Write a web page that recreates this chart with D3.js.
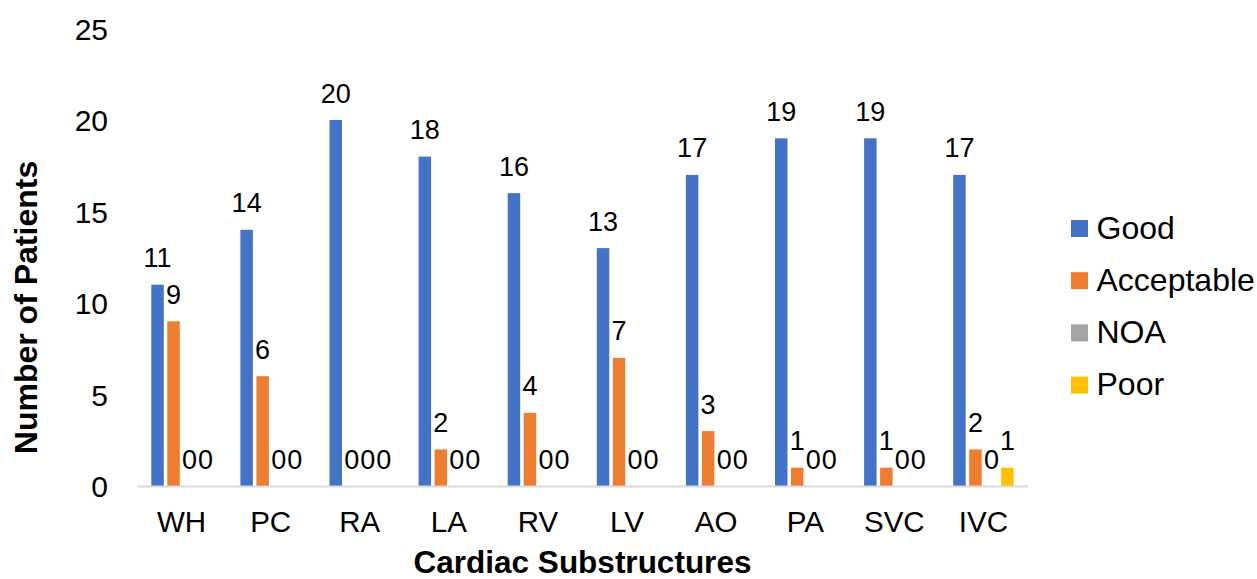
<!DOCTYPE html>
<html>
<head>
<meta charset="utf-8">
<script src="https://cdn.jsdelivr.net/npm/d3@7"></script>
<style>
  html, body { margin: 0; padding: 0; background: #fff; }
  svg { display: block; font-family: "Liberation Sans", Arial, sans-serif; }
</style>
</head>
<body>
<svg id="chart" width="1257" height="579"></svg>
<script>
// Contour quality ratings per cardiac substructure
const categories = ["WH", "PC", "RA", "LA", "RV", "LV", "AO", "PA", "SVC", "IVC"];
const seriesNames = ["Good", "Acceptable", "NOA", "Poor"];
const good       = [11, 14, 20, 18, 16, 13, 17, 19, 19, 17];
const acceptable = [9, 6, 0, 2, 4, 7, 3, 1, 1, 2];
const noa        = [0, 0, 0, 0, 0, 0, 0, 0, 0, 0];
const poor       = [0, 0, 0, 0, 0, 0, 0, 0, 0, 1];
const yTicks     = [0, 5, 10, 15, 20, 25];
const colors     = ["#4472C4", "#ED7D31", "#A5A5A5", "#FFC000"];

const seriesValues = [good, acceptable, noa, poor];

const svg = d3.select("#chart");
const plot = { left: 137, right: 1028, top: 28.5, bottom: 486 };

const x0 = d3.scaleBand()
  .domain(categories)
  .range([plot.left, plot.right])
  .paddingInner(0).paddingOuter(0);

// Inner scale: bar width ~12.5, step ~16 within each category band
const groupWidth = 60.5;
const x1 = d3.scaleBand()
  .domain(seriesNames)
  .range([0, groupWidth])
  .paddingInner(0.22).paddingOuter(0);

const y = d3.scaleLinear().domain([0, 25]).range([plot.bottom, plot.top]);

// Y axis tick labels (no axis line, no gridlines)
const yAxis = d3.axisLeft(y).tickValues(yTicks).tickSize(0).tickPadding(0);
const yg = svg.append("g").attr("transform", `translate(108,0)`).call(yAxis);
yg.select(".domain").remove();
yg.selectAll("text")
  .attr("x", 0)
  .attr("dy", "0.36em")
  .style("font-size", "30px")
  .style("font-family", "Liberation Sans, Arial, sans-serif")
  .attr("fill", "#000");

// Bars
const groups = svg.append("g").selectAll("g")
  .data(categories)
  .join("g")
  .attr("transform", d => `translate(${x0(d) + (x0.bandwidth() - groupWidth) / 2},0)`);

groups.selectAll("rect")
  .data((c, i) => seriesNames.map((s, k) => ({ s, k, v: seriesValues[k][i] })))
  .join("rect")
  .attr("x", d => x1(d.s))
  .attr("width", x1.bandwidth())
  .attr("y", d => y(d.v))
  .attr("height", d => y(0) - y(d.v))
  .attr("fill", d => colors[d.k]);

// Value labels
groups.selectAll("text")
  .data((c, i) => seriesNames.map((s, k) => ({ s, k, v: seriesValues[k][i] })))
  .join("text")
  .attr("x", d => x1(d.s) + x1.bandwidth() / 2)
  .attr("y", d => y(d.v) - 17.5)
  .attr("text-anchor", "middle")
  .style("font-size", "27px")
  .attr("fill", "#000")
  .text(d => d.v);

// X axis line and category labels
const xAxis = d3.axisBottom(x0).tickSize(0).tickPadding(0);
const xg = svg.append("g").attr("transform", `translate(0,${plot.bottom})`).call(xAxis);
xg.select(".domain").attr("stroke", "#D9D9D9").attr("stroke-width", 2);
xg.selectAll("text")
  .attr("y", 46)
  .attr("dy", 0)
  .style("font-size", "29.5px")
  .style("font-family", "Liberation Sans, Arial, sans-serif")
  .attr("fill", "#000");

// Axis titles
svg.append("text")
  .attr("x", (plot.left + plot.right) / 2)
  .attr("y", 573)
  .attr("text-anchor", "middle")
  .style("font-size", "31.5px")
  .style("font-weight", "bold")
  .text("Cardiac Substructures");

svg.append("text")
  .attr("transform", `translate(37,307.5) rotate(-90)`)
  .attr("text-anchor", "middle")
  .style("font-size", "32px")
  .style("font-weight", "bold")
  .text("Number of Patients");

// Legend
const legend = svg.append("g").selectAll("g")
  .data(seriesNames)
  .join("g")
  .attr("transform", (d, i) => `translate(1071,${220 + i * 52.2})`);
legend.append("rect")
  .attr("width", 17).attr("height", 17)
  .attr("fill", (d, i) => colors[i]);
legend.append("text")
  .attr("x", 25.5)
  .attr("y", 18.5)
  .style("font-size", "32px")
  .attr("fill", "#000")
  .text(d => d);
</script>
</body>
</html>
